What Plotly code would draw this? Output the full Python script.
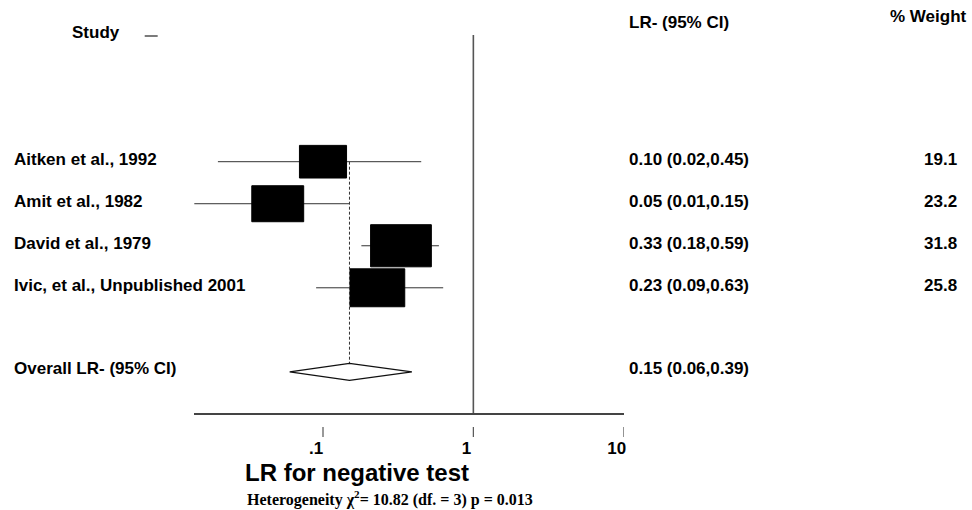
import math
import plotly.graph_objects as go

# ---- data ----
studies = ["Aitken et al., 1992", "Amit et al., 1982", "David et al., 1979",
           "Ivic, et al., Unpublished 2001"]
lr = [0.10, 0.05, 0.33, 0.23]
lr_lo = [0.02, 0.01, 0.18, 0.09]
lr_hi = [0.45, 0.15, 0.59, 0.63]
weights = [19.1, 23.2, 31.8, 25.8]
overall_label = "Overall LR- (95% CI)"
overall = 0.15
overall_lo = 0.06
overall_hi = 0.39
tick_vals = [0.1, 1, 10]
tick_text = [".1", "1", "10"]
x_title = "LR for negative test"
het_chi2 = 10.82
het_df = 3
het_p = 0.013

# ---- geometry / style ----
W, H = 972, 510
FONT = "Liberation Sans, Arial, sans-serif"
SERIF = "Liberation Serif, Times New Roman, serif"
ROW0_PX, ROW_PX = 161.7, 42.03          # pixel of row 0 and row spacing
X_LEFT_PX, X_RIGHT_PX = 194.7, 625.0
XR = [-1.856, 1.0]
DEC_PX = (X_RIGHT_PX - X_LEFT_PX) / (XR[1] - XR[0])
overall_row = len(studies) + 1
axis_row = overall_row + 1

def row_of_px(p):
    return (p - ROW0_PX) / ROW_PX

fig = go.Figure()

# CI lines
for i in range(len(studies)):
    fig.add_trace(go.Scatter(x=[lr_lo[i], lr_hi[i]], y=[i, i], mode="lines",
                             line=dict(color="#333333", width=1),
                             hoverinfo="skip", showlegend=False))

# weight boxes (size ~ sqrt(weight))
for i in range(len(studies)):
    s = math.sqrt(weights[i])
    hw = 10.8 * s / 2 / DEC_PX          # half width in decades
    hh = 7.47 * s / 2 / ROW_PX          # half height in rows
    x0 = lr[i] * 10 ** (-hw)
    x1 = lr[i] * 10 ** (hw)
    fig.add_trace(go.Scatter(x=[x0, x1, x1, x0, x0],
                             y=[i - hh, i - hh, i + hh, i + hh, i - hh],
                             mode="lines", fill="toself", fillcolor="#000000",
                             line=dict(color="#000000", width=1),
                             hoverinfo="skip", showlegend=False))

# dashed line at the pooled estimate
fig.add_trace(go.Scatter(x=[overall, overall], y=[0, overall_row], mode="lines",
                         line=dict(color="#333333", width=1, dash="3px,2px"),
                         hoverinfo="skip", showlegend=False))

# overall diamond
dh = 8.5 / ROW_PX
fig.add_trace(go.Scatter(x=[overall_lo, overall, overall_hi, overall, overall_lo],
                         y=[overall_row, overall_row - dh, overall_row,
                            overall_row + dh, overall_row],
                         mode="lines", fill="toself", fillcolor="#ffffff",
                         line=dict(color="#111111", width=1.3),
                         hoverinfo="skip", showlegend=False))

# null line at LR = 1
fig.add_trace(go.Scatter(x=[1, 1], y=[row_of_px(35), axis_row], mode="lines",
                         line=dict(color="#555555", width=1.6),
                         hoverinfo="skip", showlegend=False))

# tick marks (detached below axis line)
tx, ty = [], []
for v in tick_vals:
    tx += [v, v, None]
    ty += [row_of_px(427), row_of_px(437), None]
fig.add_trace(go.Scatter(x=tx, y=ty, mode="lines",
                         line=dict(color="#555555", width=1.2),
                         hoverinfo="skip", showlegend=False, cliponaxis=False))

ann = []
def txt(text, x, y, xanchor="left", size=17, font=FONT, yref="y", color="#000"):
    ann.append(dict(text=text, x=x, y=y, xref="paper", yref=yref,
                    xanchor=xanchor, yanchor="middle", showarrow=False,
                    font=dict(family=font, size=size, color=color)))

def py(p):
    return 1 - p / H

# headers
txt("<b>Study</b>", 70 / W, py(32), yref="paper")
txt("<b>LR- (95% CI)</b>", 628 / W, py(23), yref="paper")
txt("<b>% Weight</b>", 971 / W, py(16), xanchor="right", yref="paper")

for i, name in enumerate(studies):
    txt("<b>%s</b>" % name, 12 / W, i - 0.06)
    txt("<b>%.2f (%.2f,%.2f)</b>" % (lr[i], lr_lo[i], lr_hi[i]), 628 / W, i - 0.06)
    txt("<b>%.1f</b>" % weights[i], 961 / W, i - 0.06, xanchor="right")

txt("<b>%s</b>" % overall_label, 12 / W, overall_row - 0.08)
txt("<b>%.2f (%.2f,%.2f)</b>" % (overall, overall_lo, overall_hi), 628 / W,
    overall_row - 0.08)

txt("<b>%s</b>" % x_title, 244 / W, py(472), size=24, yref="paper")
txt("<b>Heterogeneity χ<sup>2</sup>= %.2f (df. = %d) p = %.3f</b>"
    % (het_chi2, het_df, het_p), 246 / W, py(498), size=16, font=SERIF,
    yref="paper")

fig.update_layout(
    width=W, height=H,
    margin=dict(l=0, r=0, t=0, b=0),
    paper_bgcolor="white", plot_bgcolor="white",
    annotations=ann,
    shapes=[dict(type="line", xref="paper", yref="paper",
                 x0=145 / W, x1=158 / W, y0=py(36), y1=py(36),
                 line=dict(color="#222", width=1.2))],
    xaxis=dict(type="log", range=XR,
               domain=[X_LEFT_PX / W, X_RIGHT_PX / W],
               anchor="free", position=py(414),
               showline=True, linecolor="#444444", linewidth=1.6,
               showgrid=False, zeroline=False, ticks="",
               tickmode="array", tickvals=tick_vals, ticktext=tick_text,
               ticklabelshift=-7, ticklabelstandoff=19,
               tickfont=dict(family=FONT, size=17, color="#000", weight="bold")),
    yaxis=dict(range=[row_of_px(H), row_of_px(0)], domain=[0, 1],
               visible=False, showgrid=False, zeroline=False),
)

fig.write_html("out.html", config={"displayModeBar": False},
               post_script="document.body.style.margin='0';"
                           "document.body.style.overflow='hidden';")
